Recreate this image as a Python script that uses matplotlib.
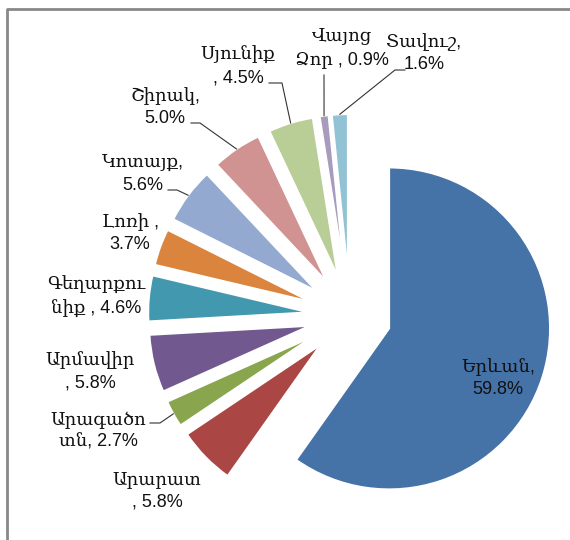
import matplotlib
matplotlib.use("Agg")
import matplotlib.pyplot as plt
import numpy as np

# share of each marz, clockwise from 12 o'clock
regions = ["Երևան", "Արարատ", "Արագածոտն", "Արմավիր", "Գեղարքունիք", "Լոռի",
           "Կոտայք", "Շիրակ", "Սյունիք", "Վայոց Ձոր", "Տավուշ"]
shares = [59.8, 5.8, 2.7, 5.8, 4.6, 3.7, 5.6, 5.0, 4.5, 0.9, 1.6]
# label text as wrapped on the chart, value goes into {}
label_fmt = ["Երևան,\n{}", "Արարատ\n, {}", "Արագածո\nտն, {}", "Արմավիր\n, {}",
             "Գեղարքու\nնիք , {}", "Լոռի ,\n{}", "Կոտայք,\n{}", "Շիրակ,\n{}",
             "Սյունիք\n, {}", "Վայոց\nՁոր , {}", "Տավուշ,\n{}"]
colors = ["#4572A7", "#AA4643", "#89A54E", "#71588F", "#4198AF", "#DB843D",
          "#93A9CF", "#D19392", "#B9CD96", "#A99BBD", "#92C3D4"]

W, H = 570, 540

def px(x, y):
    # pixel (top-left origin) -> data coords
    return x, H - y

# label centres in pixels
label_pos = [(498, 378), (157, 491), (98, 431), (90, 371), (96, 297), (130, 233),
             (143, 174), (165, 107), (238, 66), (342, 48), (424, 53)]
# leader lines: index -> (end near text, elbow)
leaders = {2: ((150, 423), (160, 423)),
           6: ((168, 190), (177, 190)),
           7: ((191, 123), (200, 123)),
           8: ((269, 83), (282, 83)),
           9: ((324, 75), (324, 75)),
           10: ((405, 70), (395, 70))}

plt.rcParams["font.family"] = ["Liberation Sans", "DejaVu Serif", "DejaVu Sans"]

fig = plt.figure(figsize=(W / 100, H / 100), dpi=100)
ax = fig.add_axes([0, 0, 1, 1])

# explode is in data units here (pie radius is 161)
wedges, _ = ax.pie(shares, colors=colors, startangle=90, counterclock=False,
                   radius=161, center=px(350, 316), explode=[41] * len(shares),
                   frame=True, wedgeprops=dict(edgecolor="white", linewidth=1.5))

ax.set_xlim(0, W)
ax.set_ylim(0, H)
ax.set_aspect("equal")
ax.axis("off")

for i, w in enumerate(wedges):
    txt = label_fmt[i].format(f"{shares[i]:.1f}%")
    x, y = px(*label_pos[i])
    ax.text(x, y, txt, ha="center", va="center", fontsize=13,
            linespacing=1.4, color="#111111")
    if i in leaders:
        mid = np.deg2rad((w.theta1 + w.theta2) / 2)
        sx = w.center[0] + w.r * np.cos(mid)
        sy = w.center[1] + w.r * np.sin(mid)
        (ex, ey), (bx, by) = leaders[i]
        ex, ey = px(ex, ey)
        bx, by = px(bx, by)
        ax.plot([ex, bx, sx], [ey, by, sy], color="#333333", lw=0.8)

# chart frame (cropped at right and bottom)
ax.plot([7, 7, W + 5], [-5, H - 9, H - 9], color="#888888", lw=2, clip_on=False)

fig.savefig("out.png", dpi=100)
